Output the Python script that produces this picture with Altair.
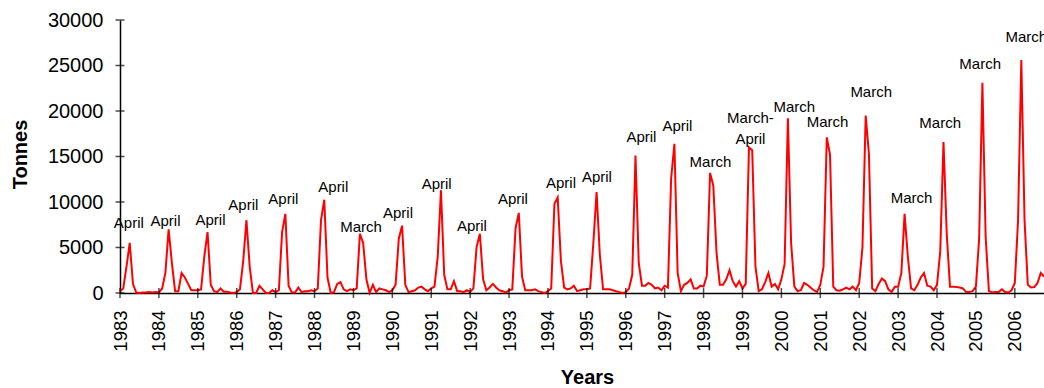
import altair as alt
import pandas as pd

# Monthly landings in tonnes, January 1983 onwards (one row per year)
monthly_tonnes = [
    200, 500, 2900, 5500, 1000, 50, 0, 50, 50, 100, 50, 100,            # 1983
    50, 500, 2200, 7000, 3300, 200, 200, 2200, 1700, 1000, 300, 300,    # 1984
    300, 400, 4000, 6700, 900, 200, 100, 500, 150, 150, 50, 0,          # 1985
    100, 400, 3500, 8000, 2900, 0, 0, 800, 400, 0, 0, 300,              # 1986
    100, 300, 6700, 8700, 800, 50, 50, 600, 100, 200, 200, 300,         # 1987
    200, 500, 8000, 10250, 1700, 0, 100, 1000, 1200, 400, 200, 400,     # 1988
    300, 500, 6500, 5500, 1500, 0, 900, 100, 500, 400, 300, 100,        # 1989
    300, 900, 6000, 7400, 900, 100, 200, 300, 600, 700, 400, 200,       # 1990
    500, 700, 4000, 11300, 2000, 400, 400, 1300, 200, 200, 100, 300,    # 1991
    100, 500, 5100, 6500, 1500, 300, 600, 1000, 600, 300, 200, 50,      # 1992
    300, 400, 7100, 8800, 1800, 300, 300, 300, 400, 200, 100, 0,        # 1993
    200, 500, 9800, 10500, 3500, 600, 400, 500, 800, 200, 300, 400,     # 1994
    400, 500, 5500, 11100, 4200, 400, 400, 400, 300, 200, 100, 0,       # 1995
    100, 500, 2000, 15100, 3300, 800, 800, 1100, 900, 500, 600, 300,    # 1996
    800, 600, 12600, 16400, 2200, 200, 900, 1100, 1500, 500, 500, 800,  # 1997
    700, 1900, 13200, 11800, 4400, 900, 900, 1500, 2500, 1300, 700, 1300,  # 1998
    500, 1000, 16000, 15700, 2900, 200, 400, 1200, 2200, 700, 1000, 400,   # 1999
    1500, 3200, 19200, 5500, 700, 200, 300, 1100, 900, 600, 300, 100,      # 2000
    900, 2900, 17100, 15200, 700, 300, 250, 400, 600, 400, 700, 300,       # 2001
    1100, 5000, 19500, 15300, 500, 200, 1000, 1600, 1300, 400, 100, 700,   # 2002
    700, 2200, 8700, 4000, 500, 300, 900, 1700, 2200, 800, 700, 300,       # 2003
    900, 4600, 16600, 6500, 700, 700, 650, 600, 500, 100, 100, 200,        # 2004
    700, 6000, 23100, 6200, 200, 50, 100, 100, 400, 100, 50, 300,          # 2005
    1100, 8000, 25600, 8000, 900, 600, 650, 1100, 2200, 1800,              # 2006
]
first_year = 1983

# Peak-month annotations (text and anchor of the first line, in data units)
label_text = ["April", "April", "April", "April", "April", "April", "March", "April",
              "April", "April", "April", "April", "April", "April", "April", "March",
              "March-\nApril", "March", "March", "March", "March", "March", "March", "March"]
label_x = [1983.226, 1984.169, 1985.326, 1986.169, 1987.197, 1988.482, 1989.194, 1990.145,
           1991.139, 1992.046, 1993.100, 1994.334, 1995.259, 1996.403, 1997.328, 1998.176,
           1999.204, 2000.330, 2001.188, 2002.309, 2003.347, 2004.082, 2005.110, 2006.297]
label_y = [7690, 7860, 8050, 9700, 10320, 11700, 7280, 8740,
           12030, 7310, 10350, 12140, 12800, 17090, 18400, 14420,
           19210, 20490, 18840, 22140, 10460, 18670, 25180, 28110]

year_ticks = list(range(1983, 2007))
tonne_ticks = [0, 5000, 10000, 15000, 20000, 25000, 30000]

FONT = "Liberation Sans"

series = pd.DataFrame({
    "t": [first_year + i / 12 for i in range(len(monthly_tonnes))],
    "tonnes": monthly_tonnes,
})
labels = pd.DataFrame({"t": label_x, "tonnes": label_y, "text": label_text})
xticks = pd.DataFrame({"t": year_ticks, "tonnes": [0] * len(year_ticks)})
yticks = pd.DataFrame({"t": [first_year] * len(tonne_ticks), "tonnes": tonne_ticks})

x_scale = alt.Scale(domain=[1983, 2006.75], nice=False, zero=False)
y_scale = alt.Scale(domain=[0, 30000], nice=False)

x_axis = alt.Axis(
    values=year_ticks, format="d", labelAngle=270, labelFontSize=18.5,
    labelFont=FONT, labelColor="black", labelPadding=17,
    ticks=False, tickSize=0, grid=False,
    domainColor="black", domainWidth=1.5,
    title="Years", titleFont=FONT, titleFontSize=20, titleFontWeight="bold",
    titleColor="black", titleX=467, titleY=84, titleAlign="center",
    titleBaseline="middle", labelOverlap=False)
y_axis = alt.Axis(
    values=tonne_ticks, format="d", labelFontSize=20, labelFont=FONT,
    labelColor="black", labelPadding=17, ticks=False, tickSize=0, grid=False,
    domainColor="black", domainWidth=1.5,
    title="Tonnes", titleFont=FONT, titleFontSize=20, titleFontWeight="bold",
    titleColor="black", titleX=-100, titleY=134, titleAngle=270,
    titleAlign="center", titleBaseline="middle")

enc_x = alt.X("t:Q", scale=x_scale, axis=x_axis, title="Years")
enc_y = alt.Y("tonnes:Q", scale=y_scale, axis=y_axis, title="Tonnes")

line = alt.Chart(series).mark_line(color="#ff0000", strokeWidth=2).encode(
    x=enc_x, y=enc_y)

# Cross-style tick marks straddling both axis lines
x_tick_marks = alt.Chart(xticks).mark_tick(
    orient="vertical", size=10, thickness=1.5, color="black"
).encode(x=enc_x, y=enc_y)
y_tick_marks = alt.Chart(yticks).mark_tick(
    orient="horizontal", size=9, thickness=1.5, color="black"
).encode(x=enc_x, y=enc_y)

peak_labels = alt.Chart(labels).mark_text(
    font=FONT, fontSize=15, color="black", align="center", baseline="middle",
    lineBreak="\n", lineHeight=21,
).encode(x=enc_x, y=enc_y, text="text:N")

chart = alt.layer(line, x_tick_marks, y_tick_marks, peak_labels).properties(
    width=924,
    height=273,
    autosize=alt.AutoSizeParams(type="none"),
    padding={"left": 120, "top": 20, "right": 0, "bottom": 95},
    background="white",
).configure_view(stroke=None)

chart.save("out.html", embed_options={"renderer": "svg", "actions": False})
